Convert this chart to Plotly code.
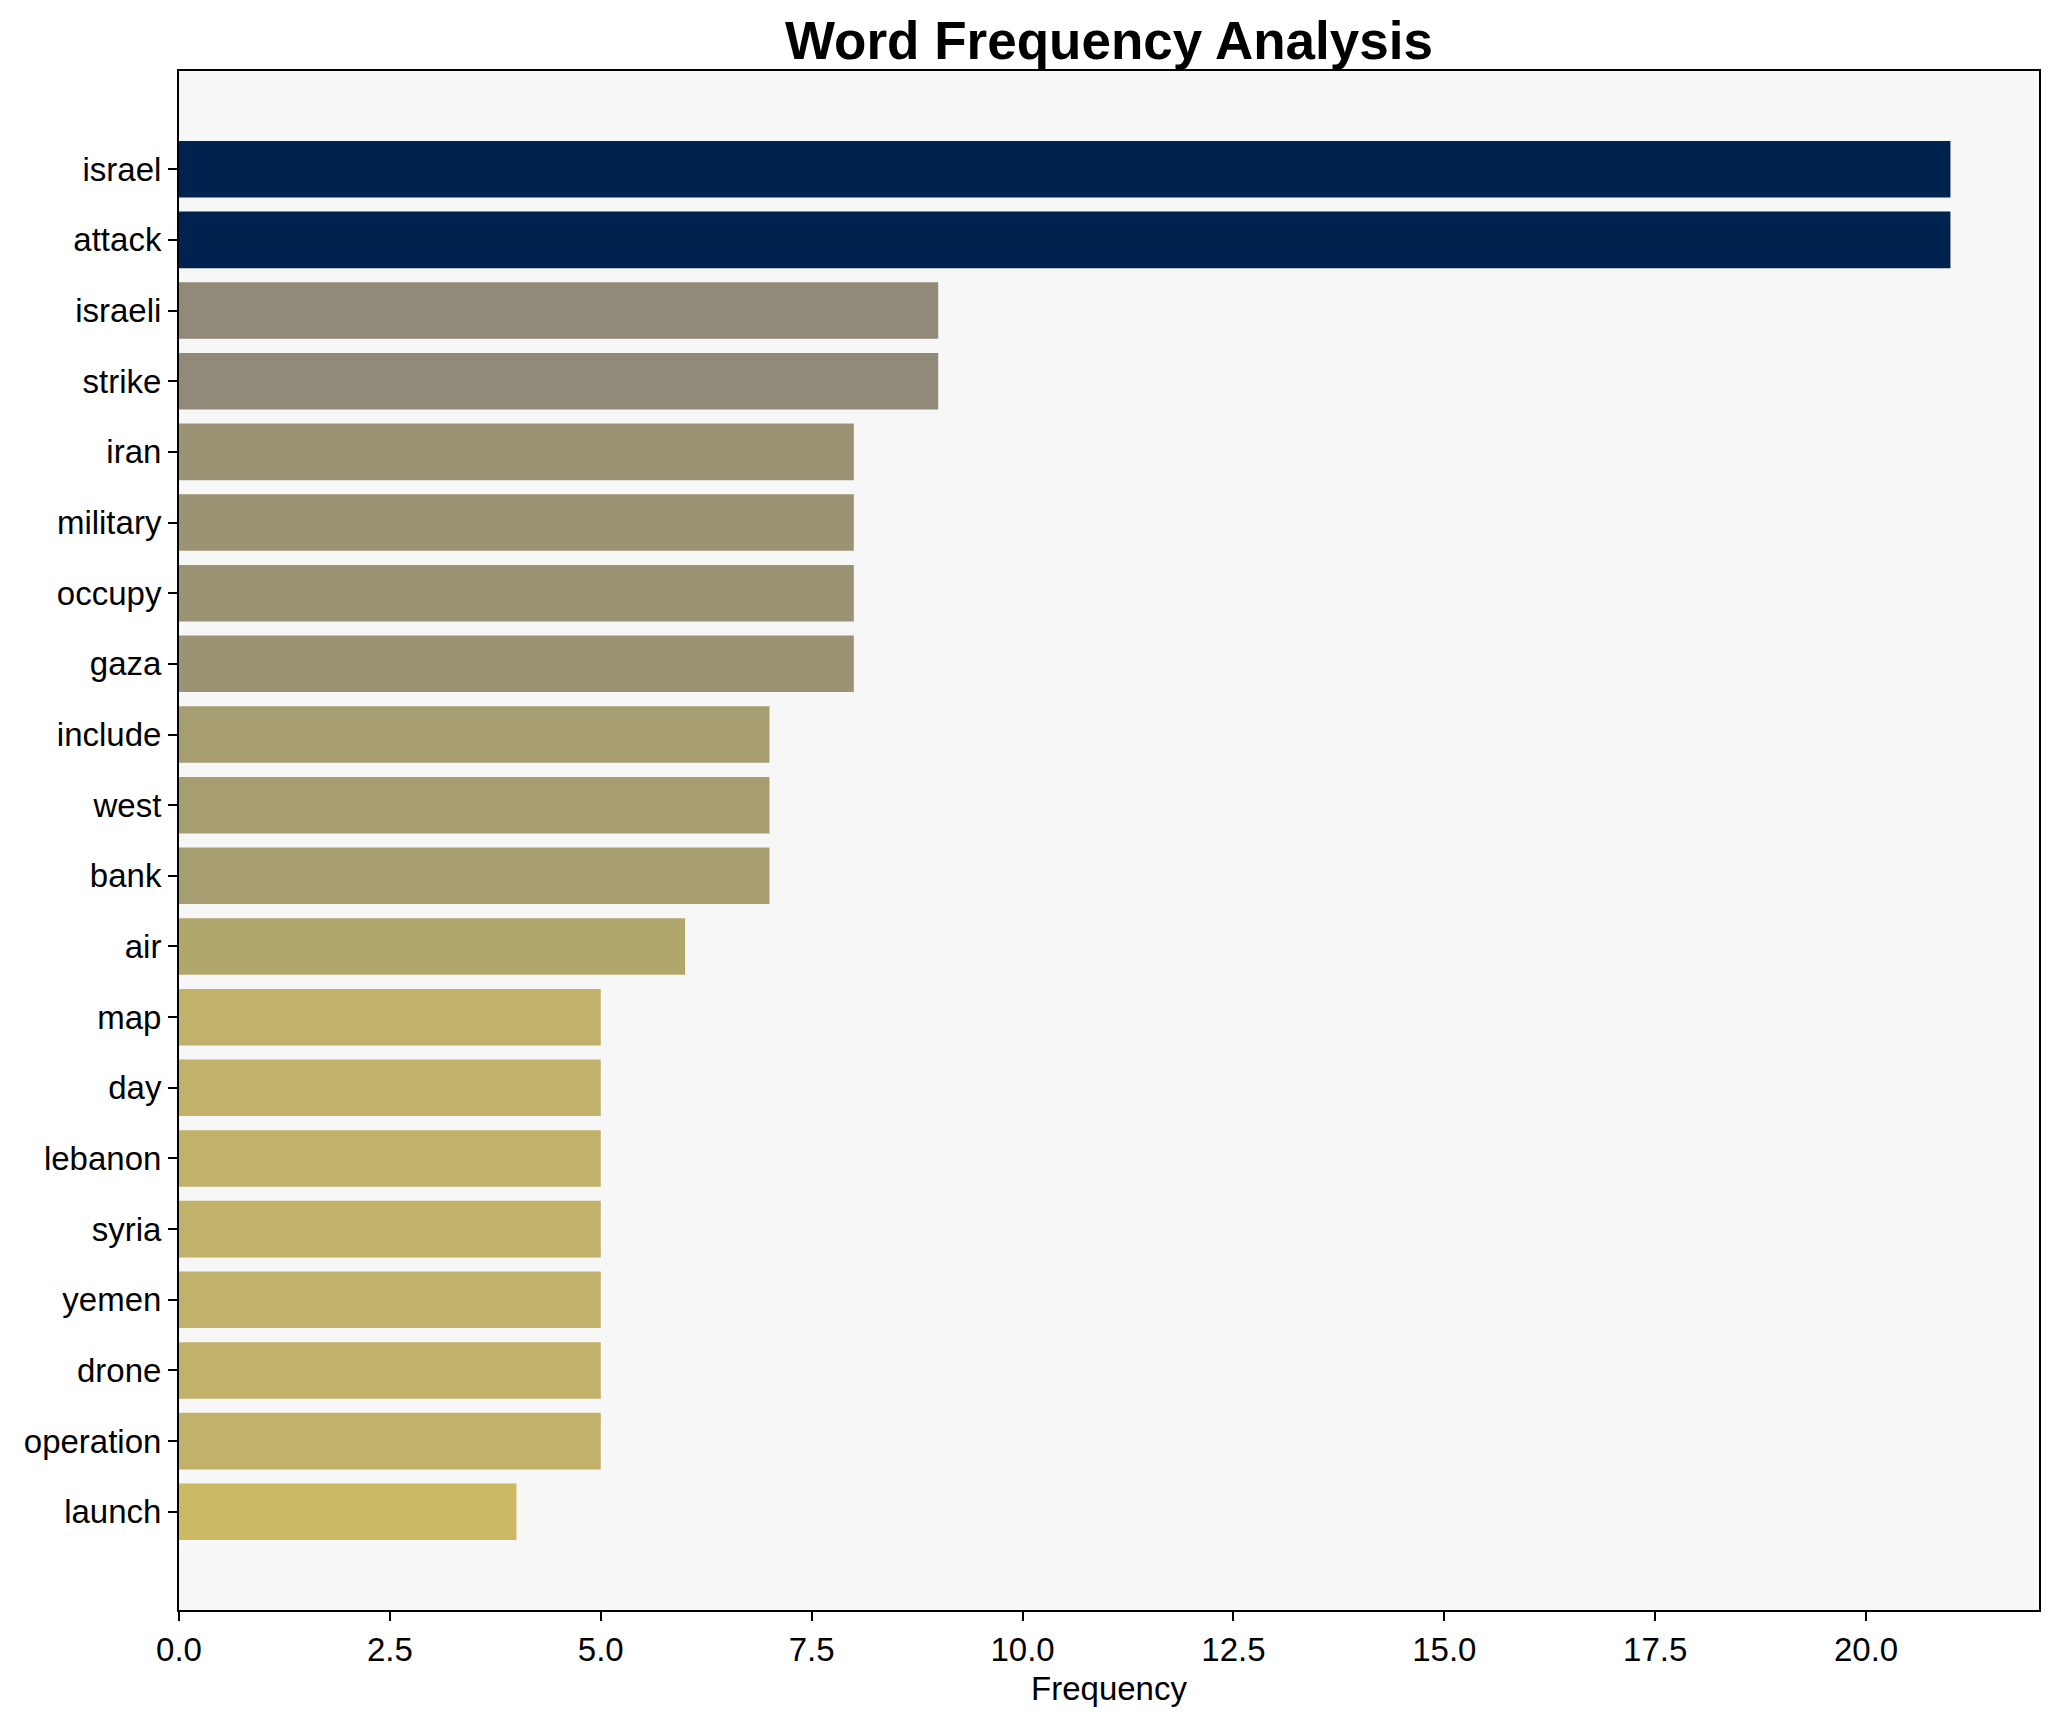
import plotly.graph_objects as go

words = ["israel", "attack", "israeli", "strike", "iran", "military", "occupy", "gaza",
         "include", "west", "bank", "air", "map", "day", "lebanon", "syria", "yemen",
         "drone", "operation", "launch"]
counts = [21, 21, 9, 9, 8, 8, 8, 8, 7, 7, 7, 6, 5, 5, 5, 5, 5, 5, 5, 4]
x_ticks = [0, 2.5, 5, 7.5, 10, 12.5, 15, 17.5, 20]
x_tick_labels = ["0.0", "2.5", "5.0", "7.5", "10.0", "12.5", "15.0", "17.5", "20.0"]

# colour per frequency (cividis reversed, sampled from reference)
palette = {21: "#00224f", 9: "#918a78", 8: "#9b9374", 7: "#a69d70",
           6: "#b1a76b", 5: "#c1b16a", 4: "#cbba63"}
colors = [palette[c] for c in counts]

n = len(words)
xmax = max(counts) * 1.05
pad = (n - 1 + 0.8) * 0.05

L, R, T, B = 171, 27, 63, 120
W, H = 2058, 1722

fig = go.Figure(go.Bar(
    x=counts, y=words, orientation="h", width=0.8,
    marker=dict(color=colors, line=dict(width=0)),
))

font_family = "Liberation Sans, Arial, sans-serif"
fig.update_layout(
    width=W, height=H,
    margin=dict(l=L, r=R, t=T, b=B),
    paper_bgcolor="white", plot_bgcolor="#f7f7f7",
    showlegend=False,
    font=dict(family=font_family, size=33, color="black"),
    title=dict(text="<b>Word Frequency Analysis</b>", x=(L + (W - R)) / 2 / W, xanchor="center",
               y=1 - 32 / H, yanchor="middle", yref="container",
               font=dict(size=53, family=font_family, color="black")),
    bargap=0.2,
)
fig.update_xaxes(
    range=[0, xmax], tickmode="array", tickvals=x_ticks, ticktext=x_tick_labels,
    ticks="outside", ticklen=9, tickwidth=2, tickcolor="black",
    showline=True, linecolor="black", linewidth=2, mirror=True,
    showgrid=False, zeroline=False,
    title=dict(text="Frequency", standoff=10, font=dict(size=33)),
    tickfont=dict(size=33),
)
fig.update_yaxes(
    categoryorder="array", categoryarray=words,
    range=[n - 1 + 0.4 + pad, -0.4 - pad],
    ticks="outside", ticklen=9, tickwidth=2, tickcolor="black",
    showline=True, linecolor="black", linewidth=2, mirror=True,
    showgrid=False, zeroline=False, tickfont=dict(size=33),
)
fig.write_html("out.html")
